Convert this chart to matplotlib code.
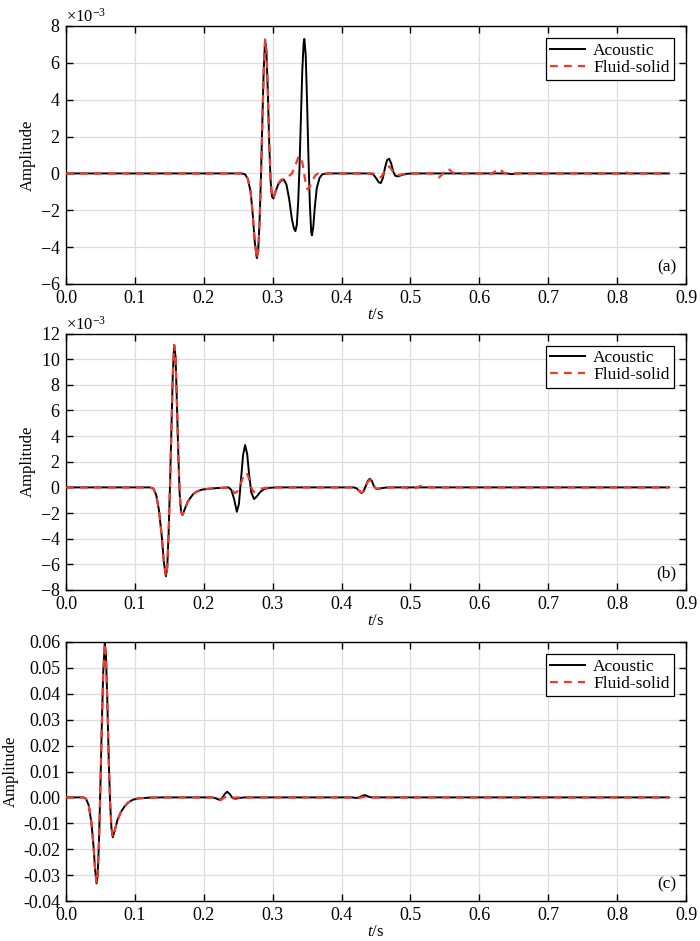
import numpy as np
import matplotlib
matplotlib.use('Agg')
import matplotlib.pyplot as plt
from matplotlib.ticker import ScalarFormatter, FormatStrFormatter, MultipleLocator

plt.rcParams['font.family'] = ['Liberation Serif', 'DejaVu Serif']
plt.rcParams['mathtext.fontset'] = 'custom'
plt.rcParams['mathtext.rm'] = 'Liberation Serif'
plt.rcParams['mathtext.it'] = 'Liberation Serif:italic'
plt.rcParams['axes.unicode_minus'] = False
plt.rcParams['font.size'] = 12.5

# ---- panel (a), amplitude in 1e-3 ----
ta_ac = [0.000, 0.255, 0.260, 0.264, 0.268, 0.271, 0.274, 0.277, 0.279, 0.281, 0.283, 0.285, 0.287, 0.289,
         0.291, 0.293, 0.295, 0.297, 0.299, 0.301, 0.304, 0.308, 0.312, 0.316, 0.320, 0.324, 0.328, 0.331,
         0.333, 0.335, 0.337, 0.339, 0.341, 0.343, 0.345, 0.346, 0.348, 0.350, 0.352, 0.354, 0.356, 0.357,
         0.359, 0.361, 0.364, 0.368, 0.372, 0.380,
         0.440, 0.446, 0.450, 0.454, 0.457, 0.460, 0.463, 0.466, 0.469, 0.472, 0.475, 0.478, 0.482, 0.488,
         0.495, 0.505, 0.640, 0.647, 0.654, 0.875]
ya_ac = [0.0, 0.0, -0.05, -0.3, -1.0, -2.2, -3.7, -4.6, -4.2, -2.6, -0.2, 2.8, 5.6, 7.26,
         6.6, 4.4, 1.6, -0.4, -1.25, -1.36, -1.0, -0.6, -0.4, -0.33, -0.6, -1.4, -2.5, -3.0,
         -3.13, -2.8, -1.6, 0.4, 3.0, 5.6, 7.1, 7.3, 6.4, 3.8, 0.8, -1.7, -3.2, -3.36,
         -2.9, -1.9, -0.8, -0.25, -0.05, 0.0,
         0.0, -0.05, -0.25, -0.48, -0.52, -0.25, 0.3, 0.72, 0.80, 0.55, 0.1, -0.13, -0.16, -0.08,
         -0.02, 0.0, 0.0, -0.04, 0.0, 0.0]
ta_fs = [0.000, 0.255, 0.260, 0.264, 0.268, 0.271, 0.274, 0.277, 0.279, 0.281, 0.283, 0.285, 0.287, 0.289,
         0.291, 0.293, 0.295, 0.297, 0.299, 0.301, 0.304, 0.308, 0.312, 0.316, 0.322, 0.328, 0.333, 0.337,
         0.340, 0.343, 0.346, 0.349, 0.351, 0.354, 0.358, 0.362, 0.366,
         0.446, 0.451, 0.455, 0.458, 0.462, 0.466, 0.469, 0.472, 0.476, 0.480, 0.484, 0.490, 0.497,
         0.532, 0.537, 0.541, 0.545, 0.549, 0.553, 0.557, 0.561, 0.566,
         0.608, 0.613, 0.618, 0.623, 0.628, 0.632, 0.637,
         0.805, 0.812, 0.819, 0.875]
ya_fs = [0.0, 0.0, -0.05, -0.3, -1.0, -2.2, -3.7, -4.6, -4.2, -2.6, -0.2, 2.8, 5.6, 7.26,
         6.6, 4.4, 1.6, -0.4, -1.25, -1.36, -1.0, -0.55, -0.35, -0.3, -0.2, 0.0, 0.45, 0.85,
         0.94, 0.6, -0.1, -0.75, -0.87, -0.7, -0.35, -0.1, 0.0,
         0.0, -0.12, -0.22, -0.18, 0.1, 0.33, 0.38, 0.25, 0.0, -0.08, -0.09, -0.03, 0.0,
         0.0, -0.1, -0.22, -0.1, 0.1, 0.25, 0.2, 0.05, 0.0,
         0.0, -0.05, -0.02, 0.12, 0.25, 0.15, 0.0,
         0.0, 0.06, 0.0, 0.0]

# ---- panel (b), amplitude in 1e-3 ----
tb_ac = [0.000, 0.122, 0.127, 0.131, 0.135, 0.139, 0.142, 0.145, 0.147, 0.149, 0.151, 0.153, 0.155, 0.157,
         0.159, 0.161, 0.163, 0.165, 0.167, 0.169, 0.172, 0.176, 0.180, 0.185, 0.190, 0.197, 0.205, 0.215,
         0.230, 0.236, 0.240, 0.244, 0.248, 0.251, 0.254, 0.257, 0.260, 0.263, 0.266, 0.269, 0.273, 0.277,
         0.282, 0.288, 0.296, 0.305,
         0.418, 0.422, 0.426, 0.429, 0.432, 0.435, 0.438, 0.441, 0.444, 0.447, 0.450, 0.453, 0.458, 0.465,
         0.475, 0.875]
yb_ac = [0.0, 0.0, -0.1, -0.6, -1.8, -3.8, -5.8, -6.93, -6.2, -3.5, 0.2, 4.5, 8.8, 11.1,
         10.2, 6.6, 2.6, -0.5, -1.9, -2.16, -1.75, -1.2, -0.85, -0.5, -0.32, -0.18, -0.12, -0.07,
         -0.02, 0.0, -0.2, -0.9, -1.9, -1.3, 0.6, 2.5, 3.3, 2.6, 0.9, -0.4, -0.91, -0.7,
         -0.35, -0.12, -0.03, 0.0,
         0.0, -0.08, -0.3, -0.44, -0.3, 0.1, 0.5, 0.68, 0.5, 0.1, -0.1, -0.12, -0.06, -0.01,
         0.0, 0.0]
tb_fs = [0.000, 0.122, 0.127, 0.131, 0.135, 0.139, 0.142, 0.145, 0.147, 0.149, 0.151, 0.153, 0.155, 0.157,
         0.159, 0.161, 0.163, 0.165, 0.167, 0.169, 0.172, 0.176, 0.180, 0.185, 0.190, 0.197, 0.205, 0.215,
         0.230, 0.236, 0.241, 0.245, 0.249, 0.253, 0.257, 0.262, 0.265, 0.268, 0.272, 0.276, 0.282, 0.290,
         0.300,
         0.418, 0.422, 0.426, 0.429, 0.432, 0.435, 0.438, 0.441, 0.444, 0.447, 0.450, 0.453, 0.458, 0.465,
         0.475, 0.492, 0.499, 0.506, 0.512, 0.518, 0.524, 0.530, 0.875]
yb_fs = [0.0, 0.0, -0.1, -0.6, -1.8, -3.8, -5.8, -6.93, -6.2, -3.5, 0.2, 4.5, 8.8, 11.1,
         10.2, 6.6, 2.6, -0.5, -1.9, -2.16, -1.75, -1.2, -0.85, -0.5, -0.32, -0.18, -0.12, -0.07,
         -0.02, 0.0, -0.2, -0.45, -0.3, 0.2, 0.8, 1.14, 0.8, 0.1, -0.35, -0.3, -0.12, -0.03,
         0.0,
         0.0, -0.08, -0.28, -0.4, -0.28, 0.08, 0.42, 0.6, 0.45, 0.1, -0.08, -0.1, -0.05, -0.01,
         0.0, 0.0, -0.12, -0.08, 0.05, 0.18, 0.05, 0.0, 0.0]

# ---- panel (c) ----
tc_ac = [0.000, 0.025, 0.029, 0.033, 0.037, 0.040, 0.042, 0.0443, 0.046, 0.048, 0.050, 0.052, 0.054, 0.0563,
         0.058, 0.060, 0.062, 0.064, 0.066, 0.068, 0.071, 0.075, 0.080, 0.085, 0.090, 0.097, 0.105, 0.120,
         0.140, 0.212, 0.217, 0.222, 0.226, 0.230, 0.234, 0.238, 0.242, 0.246, 0.252, 0.260,
         0.415, 0.421, 0.425, 0.430, 0.434, 0.438, 0.443, 0.875]
yc_ac = [0.0, 0.0, -0.0005, -0.003, -0.010, -0.019, -0.027, -0.0332, -0.030, -0.016, 0.005, 0.028, 0.048, 0.0595,
         0.055, 0.037, 0.015, -0.002, -0.012, -0.0154, -0.0125, -0.0085, -0.0055, -0.0035, -0.002, -0.0009, -0.0004, -0.0001,
         0.0, 0.0, -0.0003, -0.0009, -0.0006, 0.0012, 0.0022, 0.0012, -0.0003, -0.0005, -0.0002, 0.0,
         0.0, -0.0002, -0.0001, 0.0006, 0.0009, 0.0004, 0.0, 0.0]
tc_fs = [0.000, 0.025, 0.029, 0.033, 0.037, 0.040, 0.042, 0.0443, 0.046, 0.048, 0.050, 0.052, 0.054, 0.0563,
         0.058, 0.060, 0.062, 0.064, 0.066, 0.068, 0.071, 0.075, 0.080, 0.085, 0.090, 0.097, 0.105, 0.120,
         0.140, 0.212, 0.217, 0.222, 0.226, 0.230, 0.234, 0.238, 0.244, 0.252,
         0.412, 0.418, 0.422, 0.427, 0.432, 0.436, 0.442, 0.875]
yc_fs = [0.0, 0.0, -0.0005, -0.003, -0.010, -0.019, -0.027, -0.0332, -0.030, -0.016, 0.005, 0.028, 0.048, 0.0595,
         0.055, 0.037, 0.015, -0.002, -0.012, -0.0154, -0.0125, -0.0085, -0.0055, -0.0035, -0.002, -0.0009, -0.0004, -0.0001,
         0.0, 0.0, -0.0005, -0.0013, -0.0008, 0.0, 0.0003, 0.0001, -0.0001, 0.0,
         0.0, -0.0002, -0.0003, -0.0001, 0.0002, 0.0001, 0.0, 0.0]

panels = [
    (ta_ac, np.array(ya_ac) * 1e-3, ta_fs, np.array(ya_fs) * 1e-3, (-6e-3, 8e-3), 2e-3, '(a)', True),
    (tb_ac, np.array(yb_ac) * 1e-3, tb_fs, np.array(yb_fs) * 1e-3, (-8e-3, 12e-3), 2e-3, '(b)', True),
    (tc_ac, np.array(yc_ac), tc_fs, np.array(yc_fs), (-0.04, 0.06), 0.01, '(c)', False),
]
positions = [
    [66 / 700, (941 - 284) / 941, 620 / 700, 258 / 941],
    [66 / 700, (941 - 590) / 941, 620 / 700, 256.5 / 941],
    [66 / 700, (941 - 901) / 941, 620 / 700, 259 / 941],
]

fig = plt.figure(figsize=(7, 9.41), dpi=100)
for pos, (tac, yac, tfs, yfs, ylim, ystep, tag, sci) in zip(positions, panels):
    ax = fig.add_axes(pos)
    ax.plot(tac, yac, color='black', linewidth=1.4, label='Acoustic', zorder=3)
    ax.plot(tfs, yfs, color='#f03a30', linewidth=1.6, linestyle=(0, (3.5, 2.8)), label='Fluid-solid', zorder=4)
    ax.set_xlim(0, 0.9)
    ax.set_ylim(*ylim)
    ax.xaxis.set_major_locator(MultipleLocator(0.1))
    ax.yaxis.set_major_locator(MultipleLocator(ystep))
    ax.xaxis.set_major_formatter(FormatStrFormatter('%.1f'))
    if sci:
        fmt = ScalarFormatter(useMathText=True)
        fmt.set_powerlimits((-3, -3))
        ax.yaxis.set_major_formatter(fmt)
        ax.yaxis.get_offset_text().set_fontsize(12)
    else:
        ax.yaxis.set_major_formatter(FormatStrFormatter('%.2f'))
    ax.grid(True, color='#dcdcdc', linewidth=0.9)
    ax.set_axisbelow(True)
    ax.tick_params(direction='in', top=True, right=True, length=5, width=1, labelsize=13)
    ax.tick_params(axis='y', pad=4)
    ax.tick_params(axis='x', pad=4)
    for s in ax.spines.values():
        s.set_linewidth(1.0)
    ax.set_xlabel('$t$/s', labelpad=0, fontsize=12)
    ax.set_ylabel('Amplitude', labelpad=3, fontsize=12)
    leg = ax.legend(loc='upper right', fancybox=False, edgecolor='black', framealpha=1,
                    borderaxespad=0.7, handlelength=2.0, borderpad=0.25, labelspacing=0.05,
                    handletextpad=0.45, fontsize=12.5)
    leg.get_frame().set_linewidth(0.9)
    ax.text(0.985, 0.035, tag, transform=ax.transAxes, ha='right', va='bottom', fontsize=12.5)

fig.savefig('out.png', dpi=100)
